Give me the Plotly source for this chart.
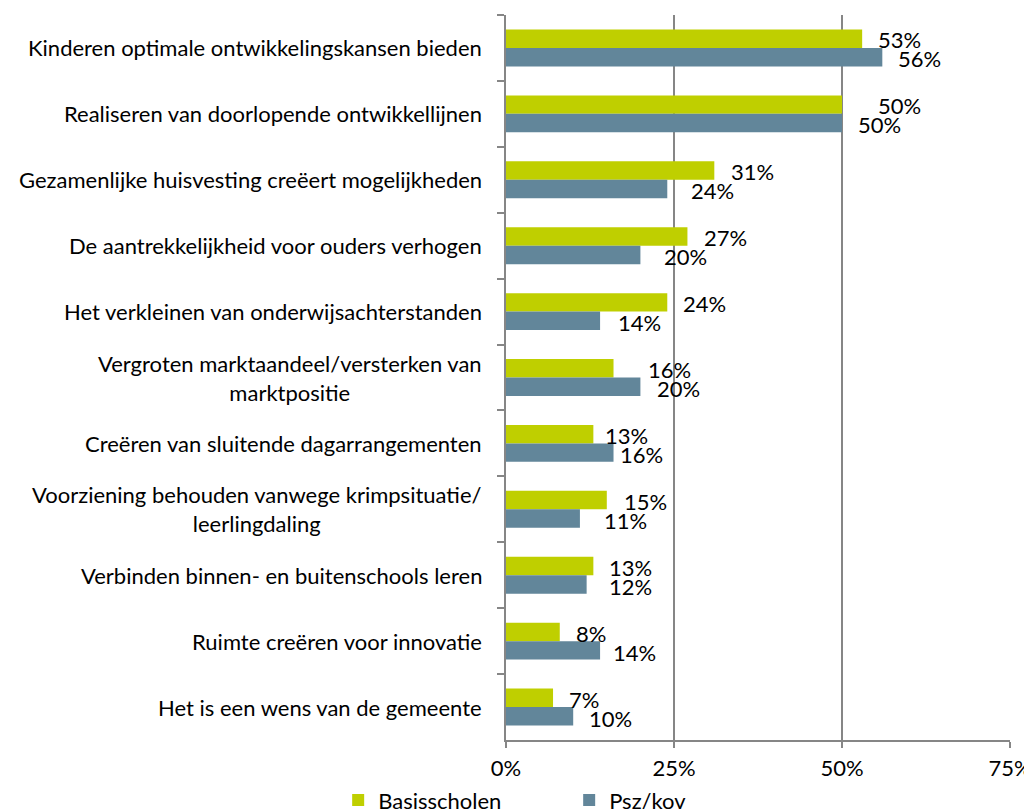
import plotly.graph_objects as go

categories = [
    "Kinderen optimale ontwikkelingskansen bieden",
    "Realiseren van doorlopende ontwikkellijnen",
    "Gezamenlijke huisvesting creëert mogelijkheden",
    "De aantrekkelijkheid voor ouders verhogen",
    "Het verkleinen van onderwijsachterstanden",
    "Vergroten marktaandeel/versterken van<br>marktpositie",
    "Creëren van sluitende dagarrangementen",
    "Voorziening behouden vanwege krimpsituatie/<br>leerlingdaling",
    "Verbinden binnen- en buitenschools leren",
    "Ruimte creëren voor innovatie",
    "Het is een wens van de gemeente",
]
basisscholen = [53, 50, 31, 27, 24, 16, 13, 15, 13, 8, 7]
psz_kov = [56, 50, 24, 20, 14, 20, 16, 11, 12, 14, 10]
x_ticks = [0, 25, 50, 75]
x_tick_labels = ["0%", "25%", "50%", "75%"]

# label nudges (pixels) to reproduce the reference label placement
shift_b = [16, 36, 17, 17, 16, 34, 12, 17, 16, 16, 16]
shift_p = [16, 16, 24, 24, 18, 17, 6, 24, 22, 13, 16]

FONT = "Lato, 'Open Sans', sans-serif"
FS = 22
GREEN = "#bfcf00"
BLUE = "#62869a"
GRAY = "#868686"

fig = go.Figure()
fig.add_trace(go.Bar(y=categories, x=basisscholen, orientation="h", name="Basisscholen",
                     marker=dict(color=GREEN, line=dict(width=0))))
fig.add_trace(go.Bar(y=categories, x=psz_kov, orientation="h", name="Psz/kov",
                     marker=dict(color=BLUE, line=dict(width=0))))

annotations = []
for i, (cat, b, p) in enumerate(zip(categories, basisscholen, psz_kov)):
    annotations.append(dict(x=b, y=cat, xref="x", yref="y", text=f"{b}%", showarrow=False,
                            xanchor="left", xshift=shift_b[i] - 2, yshift=8,
                            font=dict(family=FONT, size=FS, color="#000")))
    annotations.append(dict(x=p, y=cat, xref="x", yref="y", text=f"{p}%", showarrow=False,
                            xanchor="left", xshift=shift_p[i] - 2, yshift=-11,
                            font=dict(family=FONT, size=FS, color="#000")))
    annotations.append(dict(x=0, y=cat, xref="paper", yref="y", text=cat, showarrow=False,
                            xanchor="right", xshift=-22, align="center",
                            font=dict(family=FONT, size=FS, color="#000")))

fig.update_layout(
    width=1024, height=801,
    margin=dict(l=498, r=22, t=7, b=69, autoexpand=False),
    paper_bgcolor="white", plot_bgcolor="white",
    barmode="group", bargap=0.44, bargroupgap=0,
    font=dict(family=FONT, size=FS, color="#000"),
    showlegend=True,
    legend=dict(orientation="h", x=-0.333, xanchor="left", y=-0.083, yanchor="middle",
                font=dict(family=FONT, size=FS, color="#000"),
                entrywidth=186, entrywidthmode="pixels", traceorder="normal",
                itemwidth=30),
    annotations=annotations,
    xaxis=dict(range=[0, 75], tickvals=x_ticks, ticktext=x_tick_labels,
               showgrid=True, gridcolor=GRAY, gridwidth=1.5,
               showline=True, linecolor=GRAY, linewidth=1.5,
               ticks="outside", ticklen=6, tickcolor=GRAY, tickwidth=1.5,
               ticklabelstandoff=2,
               zeroline=False, fixedrange=True,
               tickfont=dict(family=FONT, size=FS, color="#000")),
    yaxis=dict(autorange="reversed", showticklabels=False,
               showline=True, linecolor=GRAY, linewidth=1.5,
               ticks="outside", ticklen=7, tickcolor=GRAY, tickwidth=1.5,
               tickson="boundaries", showgrid=False, fixedrange=True),
)

fig.write_html("out.html")
